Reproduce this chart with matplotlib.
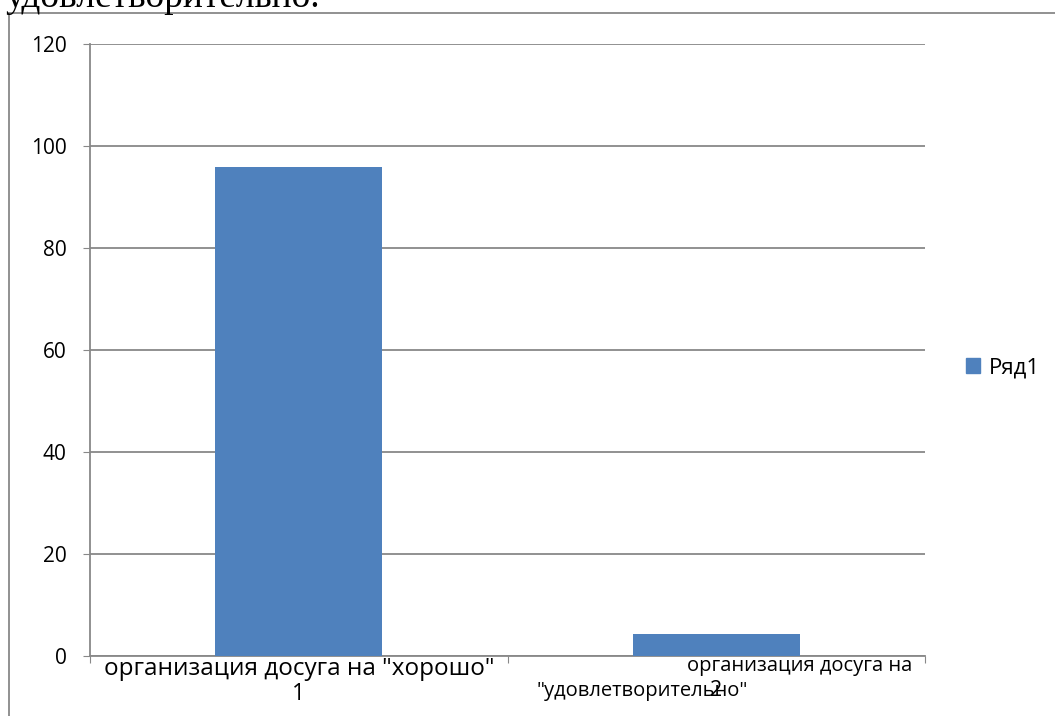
import matplotlib
matplotlib.use("Agg")
import matplotlib.pyplot as plt
from matplotlib.lines import Line2D
from matplotlib.patches import Patch

categories = ['1', '2']
label_lines = [['организация досуга на "хорошо"'],
               ['организация досуга на', '"удовлетворительно"']]
values = [95.7, 4.3]
series_name = 'Ряд1'
yticks = [0, 20, 40, 60, 80, 100, 120]
heading = 'удовлетворительно.'

plt.rcParams['font.family'] = ['Open Sans', 'DejaVu Sans']
W, H = 1055, 716
fig = plt.figure(figsize=(W / 100, H / 100), dpi=100)

grid_c = '#888888'
bar_c = '#4F81BD'

# outer chart frame (left & top)
fig.add_artist(Line2D([9 / W, 9 / W], [0, 1 - 13 / H], transform=fig.transFigure, color=grid_c, lw=1.3))
fig.add_artist(Line2D([9 / W, 1], [1 - 13 / H, 1 - 13 / H], transform=fig.transFigure, color=grid_c, lw=1.3))
fig.text(5 / W, 1 - 7 / H, heading, family='Liberation Serif', fontsize=27, ha='left', va='baseline')

ax = fig.add_axes([90 / W, 1 - 655.5 / H, (925 - 90) / W, (655.5 - 43.5) / H])
x = list(range(len(categories)))
ax.bar(x, values, width=0.4, color=bar_c, zorder=3)
ax.set_xlim(-0.5, 1.5)
ax.set_ylim(0, 120)
ax.set_yticks(yticks)
ax.set_yticklabels([str(v) for v in yticks], fontsize=15)
ax.yaxis.grid(True, color=grid_c, lw=1.3, zorder=0)
for s in ['top', 'right']:
    ax.spines[s].set_visible(False)
for s in ['left', 'bottom']:
    ax.spines[s].set_color(grid_c)
    ax.spines[s].set_linewidth(1.3)
ax.tick_params(axis='y', length=5, color=grid_c, pad=12)
ax.set_xticks([-0.5, 0.5, 1.5])
ax.set_xticklabels([])
ax.tick_params(axis='x', length=5, color=grid_c, direction='out')

tr = ax.get_xaxis_transform()
# category 1 labels
ax.text(x[0], -0.003, label_lines[0][0], transform=tr, ha='center', va='top', fontsize=17.5)
ax.text(x[0], -0.043, categories[0], transform=tr, ha='center', va='top', fontsize=16.5)
# category 2 labels (overlapping, as in the original)
ax.text(1.469, 0.0, label_lines[1][0], transform=tr, ha='right', va='top', fontsize=14.5)
ax.text(0.823, -0.042, label_lines[1][1], transform=tr, ha='center', va='top', fontsize=14.5)
ax.text(x[1], -0.040, categories[1], transform=tr, ha='center', va='top', fontsize=15.5)

fig.legend(handles=[Patch(color=bar_c, label=series_name)], loc='center left',
           bbox_to_anchor=(966 / W, 1 - 368 / H), frameon=False, fontsize=16,
           handlelength=0.65, handleheight=0.65, handletextpad=0.4, borderaxespad=0,
           borderpad=0)

fig.savefig('out.png', dpi=100)
